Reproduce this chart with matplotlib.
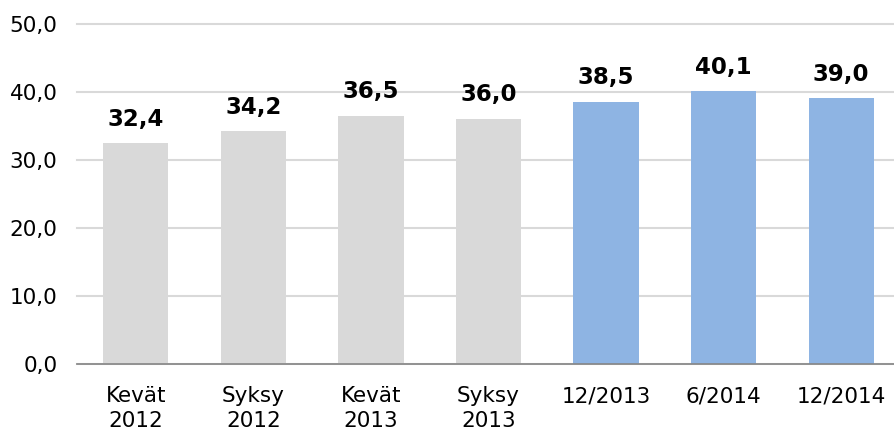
import matplotlib.pyplot as plt

categories = ["Kevät\n2012", "Syksy\n2012", "Kevät\n2013", "Syksy\n2013", "12/2013", "6/2014", "12/2014"]
values = [32.4, 34.2, 36.5, 36.0, 38.5, 40.1, 39.0]
bar_colors = ["#D9D9D9"] * 4 + ["#8EB4E3"] * 3
y_ticks = [0, 10, 20, 30, 40, 50]


def fmt(v):
    return f"{v:.1f}".replace(".", ",")


fig = plt.figure(figsize=(8.94, 4.37), dpi=100)
ax = fig.add_axes([0.0861, 0.167, 0.914, 0.779])

x = list(range(len(values)))
ax.bar(x, values, width=0.555, color=bar_colors, zorder=2)
for xi, v in zip(x, values):
    ax.annotate(fmt(v), (xi, v), xytext=(0, 9), textcoords="offset points",
                ha="center", va="bottom", fontsize=16.5, fontweight="bold", color="black")

ax.set_xlim(-0.5, 6.45)
ax.set_ylim(0, 50)
ax.set_yticks(y_ticks)
ax.set_yticklabels([fmt(t) for t in y_ticks])
ax.set_xticks(x)
ax.set_xticklabels(categories, linespacing=1.3)
ax.tick_params(axis="both", length=0, labelsize=15.5, colors="black")
ax.tick_params(axis="y", pad=14)
ax.tick_params(axis="x", pad=16)

ax.grid(axis="y", color="#D9D9D9", linewidth=1.5, zorder=0)
ax.set_axisbelow(True)
for gl in ax.get_ygridlines():
    gl.set_clip_on(False)
for side in ("top", "right", "left"):
    ax.spines[side].set_visible(False)
ax.spines["bottom"].set_color("#868686")
ax.spines["bottom"].set_linewidth(1.2)

fig.savefig("out.png", dpi=100)
